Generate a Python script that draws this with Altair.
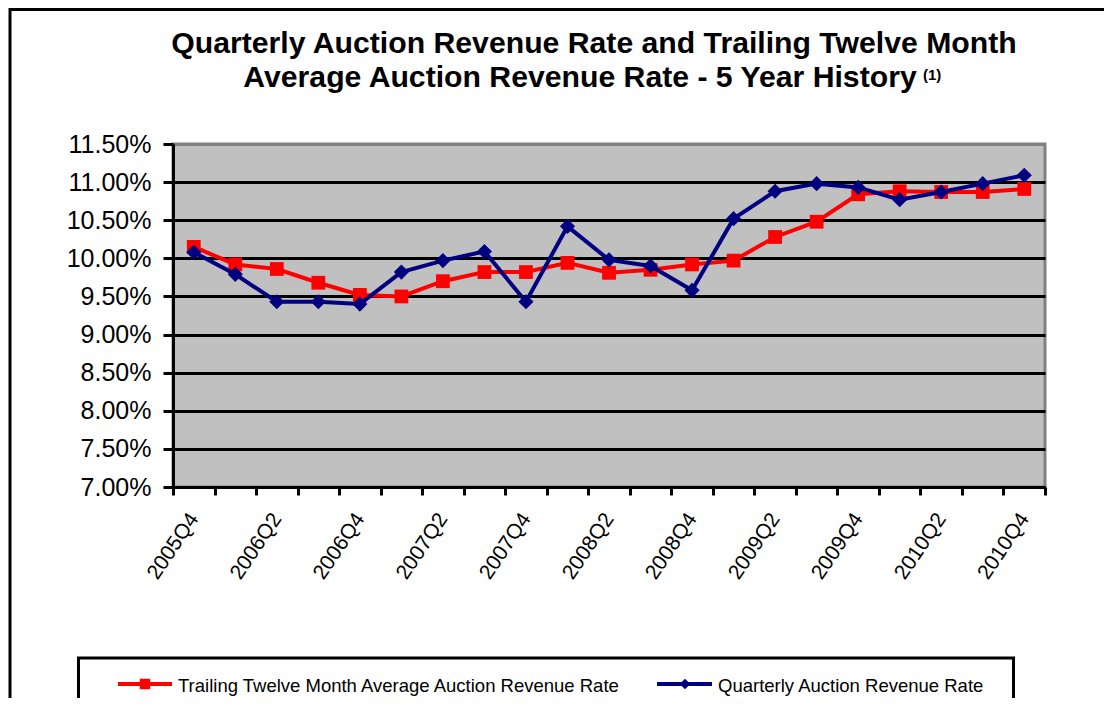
import json
import altair as alt
import pandas as pd

# ---------------- data ----------------
quarters = ["2005Q4", "2006Q1", "2006Q2", "2006Q3", "2006Q4", "2007Q1", "2007Q2",
            "2007Q3", "2007Q4", "2008Q1", "2008Q2", "2008Q3", "2008Q4", "2009Q1",
            "2009Q2", "2009Q3", "2009Q4", "2010Q1", "2010Q2", "2010Q3", "2010Q4"]
ttm_rate = [10.15, 9.92, 9.86, 9.68, 9.52, 9.50, 9.70, 9.82, 9.82, 9.94, 9.81,
            9.85, 9.92, 9.97, 10.28, 10.48, 10.84, 10.88, 10.87, 10.87, 10.91]
qtr_rate = [10.08, 9.79, 9.43, 9.43, 9.40, 9.82, 9.97, 10.09, 9.43, 10.42, 9.98,
            9.90, 9.58, 10.52, 10.88, 10.98, 10.93, 10.77, 10.87, 10.98, 11.09]
y_ticks = [7.0, 7.5, 8.0, 8.5, 9.0, 9.5, 10.0, 10.5, 11.0, 11.5]
series_names = ["Trailing Twelve Month Average Auction Revenue Rate",
                "Quarterly Auction Revenue Rate"]
title_lines = ["Quarterly Auction Revenue Rate and Trailing Twelve Month",
               "Average Auction Revenue Rate - 5 Year History"]
title_note = "(1)"

RED = "#FF0000"
BLUE = "#000080"
FONT = "Liberation Sans"

W, H = 872, 343
n = len(quarters)
band = W / n

df = pd.DataFrame({"idx": list(range(n)), "quarter": quarters,
                   "ttm": ttm_rate, "qtr": qtr_rate})
one = pd.DataFrame({"k": [0]})

# x axis: ticks at band boundaries, labels every other quarter at band centres
x_vals = [k - 0.5 for k in range(n + 1)]
lab_arr = [quarters[k] if (k % 2 == 0 and k < n) else "" for k in range(n + 1)]
x_axis = alt.Axis(values=x_vals, labelExpr=f"{json.dumps(lab_arr)}[round(datum.value + 0.5)]",
                  labelAngle=-56, labelAlign="right", labelBaseline="middle",
                  labelOffset=band / 2, labelPadding=20, labelFontSize=21,
                  labelFont=FONT, labelColor="black", labelOverlap=False, labelFlush=False,
                  tickSize=8, tickWidth=3, tickColor="black", domainColor="black",
                  domainWidth=3, grid=False, title=None)
x_scale = alt.Scale(domain=[-0.5, n - 0.5], nice=False, zero=False)

y_axis = alt.Axis(values=y_ticks, labelExpr="format(datum.value, '.2f') + '%'",
                  labelFontSize=25, labelFont=FONT, labelColor="black", labelPadding=12,
                  tickSize=10, tickWidth=3, tickColor="black", domainColor="black",
                  domainWidth=3, grid=True,
                  gridColor={"condition": {"test": "datum.value >= 11.49", "value": "#808080"},
                             "value": "black"},
                  gridWidth=3, title=None)
y_scale = alt.Scale(domain=[7.0, 11.5], nice=False, zero=False)

base = alt.Chart(df)

red_line = base.mark_line(color=RED, strokeWidth=4).encode(
    x=alt.X("idx:Q", scale=x_scale, axis=x_axis),
    y=alt.Y("ttm:Q", scale=y_scale, axis=y_axis))
red_pts = base.mark_point(shape="square", filled=True, opacity=1, color=RED, size=190).encode(
    x=alt.X("idx:Q", scale=x_scale, axis=x_axis),
    y=alt.Y("ttm:Q", scale=y_scale, axis=y_axis))
blue_line = base.mark_line(color=BLUE, strokeWidth=4).encode(
    x=alt.X("idx:Q", scale=x_scale, axis=x_axis),
    y=alt.Y("qtr:Q", scale=y_scale, axis=y_axis))
blue_pts = base.mark_point(shape="diamond", filled=True, opacity=1, color=BLUE, size=230).encode(
    x=alt.X("idx:Q", scale=x_scale, axis=x_axis),
    y=alt.Y("qtr:Q", scale=y_scale, axis=y_axis))

deco = alt.Chart(one)

# outer frame
frame = deco.mark_rect(fillOpacity=0, stroke="black", strokeWidth=3).encode(
    x=alt.value(-163), x2=alt.value(960), y=alt.value(-134.5), y2=alt.value(600))

# title
t1 = deco.mark_text(font=FONT, fontSize=30.2, fontWeight="bold", align="center",
                    baseline="alphabetic", color="black").encode(
    x=alt.value(421), y=alt.value(-91.5), text=alt.value(title_lines[0]))
t2 = deco.mark_text(font=FONT, fontSize=30.2, fontWeight="bold", align="center",
                    baseline="alphabetic", color="black").encode(
    x=alt.value(407), y=alt.value(-57), text=alt.value(title_lines[1]))
t3 = deco.mark_text(font=FONT, fontSize=15, fontWeight="bold", align="left",
                    baseline="alphabetic", color="black").encode(
    x=alt.value(750), y=alt.value(-64), text=alt.value(title_note))

# legend
leg_box = deco.mark_rect(fillOpacity=0, stroke="black", strokeWidth=3).encode(
    x=alt.value(-94.5), x2=alt.value(840.5), y=alt.value(514), y2=alt.value(600))
leg_red_line = deco.mark_rule(color=RED, strokeWidth=4).encode(
    x=alt.value(-55), x2=alt.value(-1), y=alt.value(540))
leg_red_pt = deco.mark_point(shape="square", filled=True, opacity=1, color=RED, size=110).encode(
    x=alt.value(-28), y=alt.value(540))
leg_red_txt = deco.mark_text(font=FONT, fontSize=18.5, align="left", baseline="middle",
                             color="black").encode(
    x=alt.value(5), y=alt.value(542), text=alt.value(series_names[0]))
leg_blue_line = deco.mark_rule(color=BLUE, strokeWidth=4).encode(
    x=alt.value(484), x2=alt.value(539), y=alt.value(540))
leg_blue_pt = deco.mark_point(shape="diamond", filled=True, opacity=1, color=BLUE, size=110).encode(
    x=alt.value(512), y=alt.value(540))
leg_blue_txt = deco.mark_text(font=FONT, fontSize=18.5, align="left", baseline="middle",
                              color="black").encode(
    x=alt.value(545), y=alt.value(542), text=alt.value(series_names[1]))

chart = alt.layer(
    red_line, red_pts, blue_line, blue_pts,
    frame, t1, t2, t3,
    leg_box, leg_red_line, leg_red_pt, leg_red_txt,
    leg_blue_line, leg_blue_pt, leg_blue_txt,
).properties(
    width=W, height=H,
    autosize=alt.AutoSizeParams(type="none"),
    padding={"left": 165, "top": 136, "right": 59, "bottom": 211},
    background="white",
).configure_view(
    fill="#C0C0C0", stroke="#808080", strokeWidth=3
)

chart.save("out.html", embed_options={"renderer": "svg", "actions": False})
